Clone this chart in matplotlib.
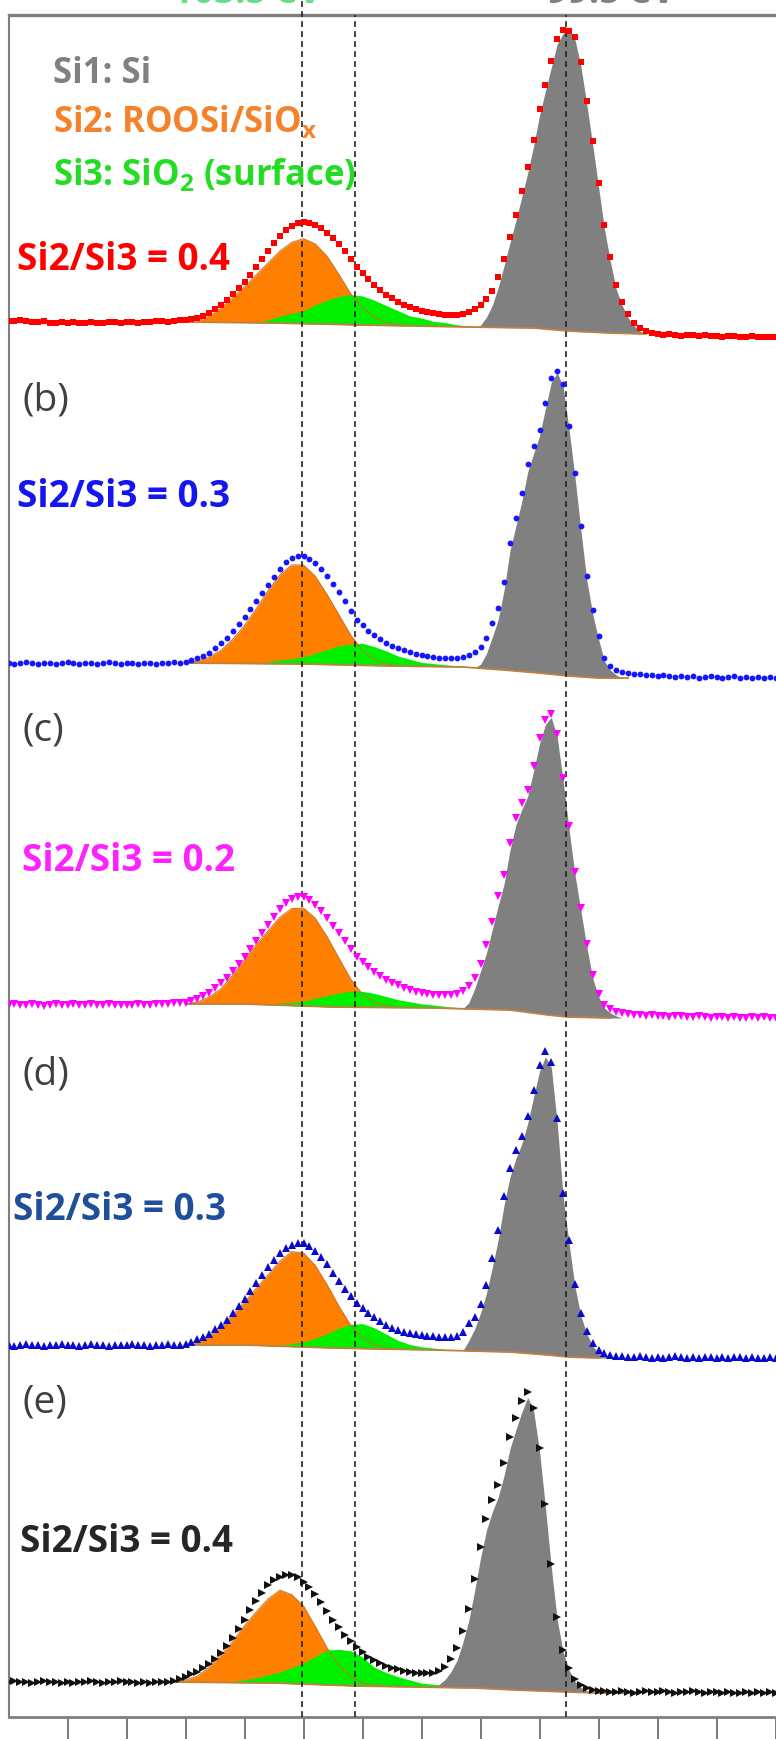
import numpy as np
import matplotlib.pyplot as plt

plt.rcParams['font.family'] = ['Open Sans', 'DejaVu Sans']
plt.rcParams['mathtext.fontset'] = 'custom'
plt.rcParams['mathtext.rm'] = 'Open Sans:bold'
plt.rcParams['mathtext.it'] = 'Open Sans:bold'
plt.rcParams['mathtext.bf'] = 'Open Sans:bold'

# binding energy grid of the measured spectra (eV), 0.1 eV steps
energy = np.round(np.arange(109.0, 95.95, -0.1), 1)

# measured Si 2p intensities (a.u.) for the five samples, 109.0 -> 96.0 eV
spec_a = [16, 16, 17, 16, 15, 15, 16, 14, 14, 15,
          14, 15, 14, 14, 15, 14, 14, 15, 15, 14,
          15, 15, 14, 15, 15, 16, 16, 15, 16, 17,
          17, 18, 19, 21, 24, 28, 32, 37, 43, 49,
          55, 62, 70, 78, 86, 94, 101, 107, 111, 114,
          115, 114, 112, 109, 104, 99, 93, 86, 78, 70,
          64, 58, 52, 47, 42, 39, 35, 32, 30, 28,
          26, 25, 24, 23, 22, 22, 22, 23, 25, 28,
          32, 38, 46, 60, 78, 100, 122, 146, 170, 197,
          228, 252, 276, 298, 307, 306, 300, 275, 236, 196,
          154, 112, 80, 52, 35, 23, 14, 9, 6, 4,
          3, 2, 3, 2, 1, 2, 2, 1, 2, 1,
          1, 0, 1, 1, 0, 0, 1, 0, 0, 0,
          0]
spec_b = [15, 14, 15, 16, 15, 14, 15, 15, 14, 15,
          16, 15, 14, 15, 15, 14, 15, 16, 15, 14,
          15, 15, 14, 15, 15, 14, 15, 15, 16, 15,
          16, 18, 20, 22, 25, 30, 35, 40, 47, 54,
          61, 69, 77, 85, 93, 101, 109, 116, 120, 122,
          122, 119, 115, 109, 102, 94, 86, 77, 67, 58,
          53, 47, 43, 39, 35, 32, 30, 28, 26, 24,
          23, 22, 21, 20, 20, 20, 20, 21, 23, 26,
          31, 40, 55, 70, 96, 135, 160, 185, 214, 232,
          248, 275, 300, 307, 294, 252, 205, 152, 102, 68,
          42, 20, 12, 8, 6, 5, 4, 4, 3, 3,
          2, 3, 2, 1, 2, 1, 2, 0, 1, 2,
          1, 0, 1, 2, 0, 1, 0, 1, 0, 1,
          0]
spec_c = [13, 14, 13, 13, 14, 13, 12, 13, 14, 13,
          13, 14, 13, 13, 14, 13, 13, 14, 13, 13,
          13, 13, 14, 13, 13, 14, 14, 14, 15, 15,
          15, 17, 19, 22, 25, 30, 35, 40, 47, 54,
          61, 69, 77, 85, 93, 101, 109, 115, 119, 121,
          121, 118, 113, 107, 100, 92, 85, 77, 69, 61,
          56, 51, 46, 42, 38, 35, 33, 30, 28, 26,
          25, 24, 23, 23, 23, 23, 24, 27, 32, 40,
          54, 73, 96, 122, 143, 175, 200, 215, 228, 252,
          280, 298, 304, 284, 240, 192, 146, 110, 74, 43,
          24, 13, 9, 6, 5, 4, 3, 3, 2, 3,
          2, 2, 1, 2, 2, 1, 1, 2, 1, 0,
          1, 1, 0, 1, 0, 0, 1, 0, 1, 0,
          0]
spec_d = [13, 12, 13, 14, 13, 13, 12, 13, 13, 14,
          13, 13, 12, 13, 14, 13, 13, 12, 13, 13,
          13, 14, 13, 13, 12, 13, 13, 14, 13, 13,
          14, 16, 19, 21, 24, 29, 33, 38, 45, 52,
          59, 67, 75, 83, 91, 98, 105, 110, 113, 115,
          115, 112, 107, 101, 94, 85, 77, 69, 62, 55,
          50, 45, 41, 37, 33, 30, 28, 26, 25, 24,
          23, 22, 22, 21, 21, 21, 22, 26, 35, 41,
          54, 73, 100, 128, 162, 190, 208, 222, 242, 268,
          293, 307, 296, 240, 165, 118, 74, 45, 27, 15,
          8, 5, 3, 2, 2, 1, 1, 2, 1, 0,
          1, 0, 1, 2, 1, 0, 1, 0, 1, 1,
          0, 1, 0, 1, 1, 0, 1, 0, 0, 1,
          0]
spec_e = [11, 12, 11, 11, 10, 11, 12, 11, 11, 10,
          11, 10, 11, 11, 12, 11, 10, 11, 11, 12,
          11, 11, 10, 11, 10, 11, 11, 11, 12, 14,
          16, 19, 21, 25, 29, 34, 40, 47, 55, 64,
          73, 83, 92, 100, 108, 113, 116, 118, 118, 116,
          111, 106, 99, 91, 82, 73, 66, 58, 52, 46,
          41, 36, 33, 30, 27, 25, 24, 22, 21, 20,
          20, 20, 20, 22, 26, 34, 45, 62, 84, 114,
          146, 174, 193, 208, 230, 256, 275, 292, 301, 285,
          245, 189, 129, 76, 43, 25, 14, 8, 5, 3,
          2, 2, 1, 1, 2, 1, 0, 1, 2, 1,
          1, 2, 1, 0, 1, 1, 2, 1, 0, 1,
          1, 0, 1, 0, 0, 1, 0, 1, 0, 1,
          0]

# Shirley background knots (eV, a.u.)
bg_e_a = [106.0, 104.5, 103.0, 101.2, 100.1, 99.5, 98.8, 98.2]
bg_a = [15, 14, 12, 10, 9, 6, 4, 3]
bg_e_b = [106.0, 104.0, 102.5, 101.3, 100.6, 100.0, 99.5, 99.0, 98.5]
bg_b = [15, 14, 12, 11, 8, 5, 2, 0, 0]
bg_e_c = [106.0, 105.0, 103.5, 101.8, 100.5, 99.85, 99.5, 98.8]
bg_c = [14, 14, 11, 10, 8, 3, 1, 0]
bg_e_d = [106.0, 105.0, 103.5, 101.8, 100.5, 99.85, 99.5, 99.0]
bg_d = [13, 13, 10, 8, 6, 3, 1, 0]
bg_e_e = [106.2, 104.5, 103.1, 101.1, 100.4, 99.5, 99.0, 98.4]
bg_e = [11, 10, 7, 5, 3, 1, 0, 0]

# fitted components above background: (start energy, values)
# Si1 sampled every 0.1 eV, Si2 / Si3 every 0.2 eV
si1_a = (101.1, [0, 2, 10, 22, 40, 62, 85, 107, 131, 155, 182, 213, 238, 262, 286,
                 297, 301, 292, 266, 228, 188, 146, 104, 72, 44, 28, 16, 8, 3, 0])
si2_a = (105.8, [1, 6, 14, 25, 36, 48, 60, 72, 81, 85, 80, 68, 50, 31, 17, 8, 3, 1, 0])
si3_a = (104.8, [0, 3, 7, 10, 13, 19, 24, 28, 30, 29, 25, 20, 15, 10, 8, 5, 4, 2, 1, 0])

si1_b = (101.1, [0, 4, 15, 32, 50, 80, 120, 145, 170, 200, 219, 237, 265, 292, 302,
                 289, 247, 200, 147, 98, 64, 39, 17, 8, 3, 0])
si2_b = (106.0, [0, 2, 6, 13, 24, 38, 55, 73, 89, 99, 99, 88, 70, 50, 30, 15, 6, 2, 0])
si3_b = (104.8, [0, 2, 4, 5, 7, 11, 15, 19, 21, 22, 19, 15, 10, 7, 4, 3, 2, 1, 0])

si1_c = (101.3, [0, 6, 20, 38, 56, 80, 104, 126, 160, 186, 202, 216, 242, 270, 290,
                 298, 279, 236, 188, 143, 107, 71, 40, 21, 10, 5, 2, 0])
si2_c = (106.0, [0, 2, 7, 15, 29, 44, 60, 74, 88, 97, 98, 88, 70, 49, 28, 13, 5, 2, 0])
si3_c = (104.8, [0, 1, 2, 3, 5, 8, 11, 14, 16, 16, 14, 11, 8, 6, 4, 3, 2, 1, 0])

si1_d = (101.3, [0, 10, 22, 38, 58, 84, 112, 147, 175, 194, 209, 230, 257, 283, 298,
                 288, 233, 160, 114, 71, 42, 24, 12, 5, 2, 0])
si2_d = (106.0, [0, 3, 9, 18, 30, 43, 57, 71, 85, 95, 94, 82, 63, 42, 23, 11, 4, 1, 0])
si3_d = (104.6, [0, 1, 3, 5, 9, 14, 20, 24, 25, 21, 15, 9, 5, 3, 2, 1, 0])

si1_e = (101.8, [0, 3, 8, 16, 27, 45, 67, 97, 130, 158, 177, 192, 214, 241, 260, 278,
                 293, 280, 240, 184, 124, 72, 40, 22, 11, 5, 2, 0])
si2_e = (106.2, [0, 2, 6, 15, 27, 41, 57, 71, 84, 93, 89, 78, 58, 37, 20, 9, 3, 1, 0])
si3_e = (105.4, [0, 1, 3, 5, 8, 11, 16, 21, 28, 35, 36, 35, 29, 19, 14, 10, 7, 4, 3, 2, 1, 0])

ratio_labels = ['Si2/Si3 = 0.4', 'Si2/Si3 = 0.3', 'Si2/Si3 = 0.2', 'Si2/Si3 = 0.3', 'Si2/Si3 = 0.4']
panel_labels = ['', '(b)', '(c)', '(d)', '(e)']
peak_lines = [104.03, 103.13, 99.55]

spectra = [spec_a, spec_b, spec_c, spec_d, spec_e]
backgrounds = [(bg_e_a, bg_a), (bg_e_b, bg_b), (bg_e_c, bg_c), (bg_e_d, bg_d), (bg_e_e, bg_e)]
components = [(si1_a, si2_a, si3_a), (si1_b, si2_b, si3_b), (si1_c, si2_c, si3_c),
              (si1_d, si2_d, si3_d), (si1_e, si2_e, si3_e)]

# vertical stacking offsets and styles
offsets = [1380, 1039, 699, 359, 24]
markers = ['s', 'o', 'v', '^', '>']
msizes = [4.0, 4.2, 5.6, 5.6, 5.6]
mcolors = ['#FF0000', '#1515FF', '#FF00FF', '#0A0ACF', '#111111']
tcolors = ['#FF0000', '#1515F0', '#FF22FF', '#1F4E9A', '#262626']
ratio_pos = [(108.86, 1447), (108.86, 1210), (108.77, 846), (108.93, 497), (108.80, 165)]
panel_pos = [None, (108.77, 1307), (108.77, 977), (108.77, 633), (108.77, 305)]

C_GRAY = '#808080'
C_ORANGE = '#FF8000'
C_GREEN = '#00F000'
C_BG = '#C08040'


def comp_grid(start, n, step):
    return np.round(start - step * np.arange(n), 1)


fig = plt.figure(figsize=(7.76, 17.39), dpi=100)
ax = fig.add_axes([8.5 / 776, 22 / 1739, (800 - 8.5) / 776, (1717 - 14.5) / 1739])
ax.set_xlim(109, 109 - (800 - 8.5) / 59)
ax.set_ylim(0, 1702.5)

for i in range(5):
    off = offsets[i]
    bgx, bgy = backgrounds[i]
    bgx_inc = np.array(bgx)[::-1]
    bgy_inc = np.array(bgy, dtype=float)[::-1]
    (s1, v1), (s2, v2), (s3, v3) = components[i]

    e2 = comp_grid(s2, len(v2), 0.2)
    b2 = np.interp(e2, bgx_inc, bgy_inc)
    ax.fill_between(e2, off + b2, off + b2 + np.array(v2), color=C_ORANGE, lw=0, zorder=2)

    e3 = comp_grid(s3, len(v3), 0.2)
    b3 = np.interp(e3, bgx_inc, bgy_inc)
    ax.fill_between(e3, off + b3, off + b3 + np.array(v3), color=C_GREEN, lw=0, zorder=2.2)
    ax.plot(e2, off + b2 + np.array(v2), color='#C8702A', lw=0.7, zorder=2.3)

    e1 = comp_grid(s1, len(v1), 0.1)
    b1 = np.interp(e1, bgx_inc, bgy_inc)
    ax.fill_between(e1, off + b1, off + b1 + np.array(v1), color=C_GRAY, lw=0, zorder=2.4)

    ax.plot(bgx, off + np.array(bgy), color=C_BG, lw=1.3, zorder=2.5)

    ax.plot(energy, off + np.array(spectra[i]), ls='none', marker=markers[i],
            ms=msizes[i], mew=0, color=mcolors[i], zorder=4)

    ax.text(ratio_pos[i][0], ratio_pos[i][1], ratio_labels[i], color=tcolors[i],
            fontsize=26.5, fontweight='bold', ha='left', va='baseline')
    if panel_labels[i]:
        ax.text(panel_pos[i][0], panel_pos[i][1], panel_labels[i], color='#404040',
                fontsize=28, ha='left', va='baseline')

for k, e in enumerate(peak_lines):
    ax.axvline(e, ymin=0, ymax=1.009 if k == 0 else 1, color='#222222', lw=1.2,
               ls=(0, (3.5, 2.5)), zorder=3, clip_on=False)

# legend text
ax.text(108.245, 1634, 'Si1: Si', color=C_GRAY, fontsize=25, fontweight='bold',
        ha='left', va='baseline')
ax.text(108.245, 1585, 'Si2: ROOSi/SiO$_x$', color='#F5822A', fontsize=25,
        fontweight='bold', ha='left', va='baseline')
ax.text(108.245, 1532, 'Si3: SiO$_2$ (surface)', color='#22DD22', fontsize=25,
        fontweight='bold', ha='left', va='baseline')

# labels cut off at the top edge of the crop
fig.text(247 / 776, 1 - 3 / 1739, '103.5 eV', color='#66DD88', fontsize=26.5,
         fontweight='bold', ha='center', va='baseline')
fig.text(611 / 776, 1 - 3 / 1739, '99.5 eV', color=C_GRAY, fontsize=26.5,
         fontweight='bold', ha='center', va='baseline')

for side in ['left', 'top', 'bottom']:
    ax.spines[side].set_color('#7F7F7F')
ax.spines['left'].set_linewidth(1.5)
ax.spines['bottom'].set_linewidth(2)
ax.spines['top'].set_linewidth(2.4)
ax.spines['right'].set_visible(False)

ax.set_xticks(np.arange(108, 95.5, -1))
ax.tick_params(axis='x', direction='out', length=16, width=1.1, color='#555555',
               labelbottom=False)
ax.set_yticks([])

fig.savefig('out.png', dpi=100)
